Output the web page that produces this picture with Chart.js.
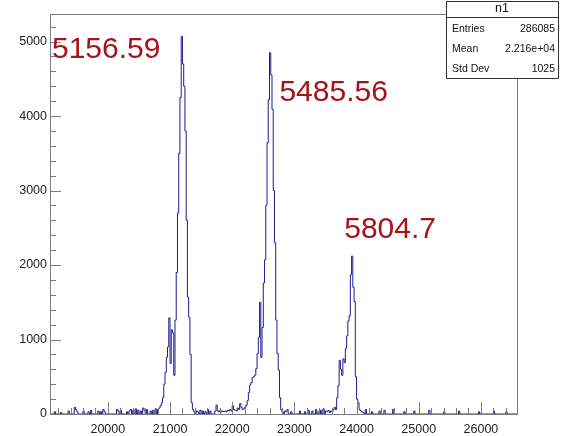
<!DOCTYPE html>
<html>
<head>
<meta charset="utf-8">
<script src="https://cdn.jsdelivr.net/npm/chart.js@4.4.0/dist/chart.umd.min.js"></script>
<style>
  html, body { margin: 0; padding: 0; background: #fff; }
  #wrap { width: 562px; height: 436px; }
</style>
</head>
<body>
<div id="wrap"><canvas id="hist" width="562" height="436"></canvas></div>
<script>
// binning of the histogram
const binLow = 19080;
const binWidth = 20;
const binCount = 375;

// the three peaks: low edge of first bin + counts per bin
const peak1Start = 20820;
const peak1Counts = [60, 80, 110, 150, 220, 400, 560, 760, 900, 1290,
                     680, 1130, 1090, 520, 1260, 1900, 2700, 3500, 4250, 5070,
                     4700, 4400, 3800, 2600, 1570, 1300, 800, 150, 60, 30];
const peak2Start = 21740;
const peak2Counts = [40, 120, 40, 30, 50, 30, 40, 30, 40, 30,
                     50, 40, 60, 40, 110, 60, 50, 40, 80, 60,
                     140, 90, 60, 70, 90, 120, 180, 290, 390, 420,
                     490, 500, 520, 610, 810, 1030, 1500, 760, 1160, 1760,
                     2070, 2800, 3640, 4220, 4850, 4550, 4090, 3000, 2300, 1260,
                     810, 590, 220, 60, 30];
const peak3Start = 23520;
const peak3Counts = [40, 30, 50, 20, 40, 30, 60, 90, 60, 220,
                     380, 720, 600, 520, 740, 690, 880, 1050, 1250, 1320,
                     1870, 2120, 1700, 1510, 500, 200, 150, 60, 40, 30, 20];

// scattered background bins
const noiseBins = [19160, 19260, 19380, 19480, 19500, 19520, 19620, 19700, 19740, 19860,
                   19900, 19940, 19960, 20160, 20180, 20220, 20320, 20360, 20380, 20420,
                   20460, 20500, 20540, 20580, 20600, 20640, 20700, 20740, 20780,
                   21440, 21460, 21500, 21540, 21580, 21620, 21660,
                   22860, 22880, 22900, 22960, 23100, 23180, 23240, 23300, 23360, 23400, 23440, 23480,
                   24160, 24260, 24380, 24460, 24600, 24780, 24940, 25180, 25420, 25660, 25980, 26220, 26420];
const noiseCounts = [30, 20, 40, 90, 60, 30, 40, 30, 50, 40,
                     30, 60, 30, 60, 40, 50, 30, 40, 60, 50,
                     70, 50, 40, 80, 50, 60, 40, 50, 70,
                     40, 30, 50, 40, 30, 60, 40,
                     40, 30, 60, 30, 40, 30, 50, 40, 60, 30, 50, 70,
                     60, 30, 40, 50, 60, 30, 40, 50, 30, 40, 30, 40, 30];

const xTicks = [20000, 21000, 22000, 23000, 24000, 25000, 26000];
const yTicks = [0, 1000, 2000, 3000, 4000, 5000];

const peakLabels = ['5156.59', '5485.56', '5804.7'];
const peakLabelX = [19102, 22759, 23801];
const peakLabelY = [4779, 4202, 2363];

const statTitle = 'n1';
const statNames = ['Entries', 'Mean', 'Std Dev'];
const statValues = ['286085', '2.216e+04', '1025'];

// assemble the bin contents
const counts = new Array(binCount).fill(0);
function fill(start, vals) {
    const i0 = Math.round((start - binLow) / binWidth);
    vals.forEach((v, i) => { counts[i0 + i] = v; });
}
noiseBins.forEach((b, i) => fill(b, [noiseCounts[i]]));
fill(peak1Start, peak1Counts);
fill(peak2Start, peak2Counts);
fill(peak3Start, peak3Counts);

const points = counts.map((c, i) => ({ x: binLow + i * binWidth, y: c }));
points.push({ x: binLow + binCount * binWidth, y: counts[binCount - 1] });

const FONT = '"Liberation Sans", Arial, Helvetica, sans-serif';
const AXIS_GRAY = '#7c7c7c';

const rootFrame = {
    id: 'rootFrame',
    afterDatasetsDraw(chart) {
        const { ctx, chartArea: a, scales: { x, y } } = chart;
        ctx.save();
        ctx.strokeStyle = AXIS_GRAY;
        ctx.lineWidth = 1;
        ctx.beginPath();
        ctx.rect(Math.round(a.left) + 0.5, Math.round(a.top) + 0.5,
                 Math.round(a.right - a.left), Math.round(a.bottom - a.top));
        // x ticks, pointing inward
        for (let v = Math.ceil(x.min / 200) * 200; v <= x.max; v += 200) {
            const px = Math.round(x.getPixelForValue(v)) + 0.5;
            const len = v % 1000 === 0 ? 12 : 6;
            ctx.moveTo(px, a.bottom);
            ctx.lineTo(px, a.bottom - len);
        }
        // y ticks
        for (let v = 0; v <= y.max; v += 200) {
            const py = Math.round(y.getPixelForValue(v)) + 0.5;
            const len = v % 1000 === 0 ? 11 : 6;
            ctx.moveTo(a.left, py);
            ctx.lineTo(a.left + len, py);
        }
        ctx.stroke();

        // peak energy labels
        ctx.fillStyle = 'rgb(165,20,26)';
        ctx.font = '30px ' + FONT;
        ctx.textAlign = 'left';
        ctx.textBaseline = 'alphabetic';
        peakLabels.forEach((t, i) => {
            ctx.fillText(t, x.getPixelForValue(peakLabelX[i]), y.getPixelForValue(peakLabelY[i]));
        });

        // stats box
        const bx = 446, by = 1, bw = 112, bh = 77;
        ctx.fillStyle = '#fff';
        ctx.fillRect(bx, by, bw, bh);
        ctx.strokeStyle = '#333';
        ctx.beginPath();
        ctx.rect(bx + 0.5, by + 0.5, bw, bh);
        ctx.moveTo(bx, 17.5);
        ctx.lineTo(bx + bw, 17.5);
        ctx.stroke();
        ctx.fillStyle = '#111';
        ctx.font = '12.5px ' + FONT;
        ctx.textAlign = 'center';
        ctx.textBaseline = 'middle';
        ctx.fillText(statTitle, bx + bw / 2, 9);
        ctx.font = '10.5px ' + FONT;
        const rowY = [29, 49, 69];
        statNames.forEach((n, i) => {
            ctx.textAlign = 'left';
            ctx.fillText(n, bx + 6, rowY[i]);
            ctx.textAlign = 'right';
            ctx.fillText(statValues[i], bx + bw - 3, rowY[i]);
        });
        ctx.restore();
    }
};

new Chart(document.getElementById('hist').getContext('2d'), {
    type: 'line',
    data: {
        datasets: [{
            data: points,
            stepped: 'after',
            borderColor: 'rgb(28,28,150)',
            borderWidth: 1,
            pointRadius: 0,
            fill: false,
        }]
    },
    options: {
        responsive: false,
        animation: false,
        layout: { padding: { left: 0, right: 45, top: 14, bottom: 0 } },
        plugins: { legend: { display: false }, tooltip: { enabled: false } },
        scales: {
            x: {
                type: 'linear',
                min: 19070,
                max: 26580,
                grid: { display: false, drawTicks: false },
                border: { display: false },
                afterBuildTicks: s => { s.ticks = xTicks.map(v => ({ value: v })); },
                afterFit: s => { s.height = 22; },
                ticks: {
                    font: { family: FONT, size: 12.5 },
                    color: '#222',
                    padding: 8,
                    maxRotation: 0,
                    autoSkip: false,
                    callback: v => String(v),
                }
            },
            y: {
                min: 0,
                max: 5370,
                grid: { display: false, drawTicks: false },
                border: { display: false },
                afterBuildTicks: s => { s.ticks = yTicks.map(v => ({ value: v })); },
                afterFit: s => { s.width = 50; },
                ticks: {
                    font: { family: FONT, size: 12.5 },
                    color: '#222',
                    padding: 3,
                    callback: v => String(v),
                }
            }
        }
    },
    plugins: [rootFrame]
});
</script>
</body>
</html>
